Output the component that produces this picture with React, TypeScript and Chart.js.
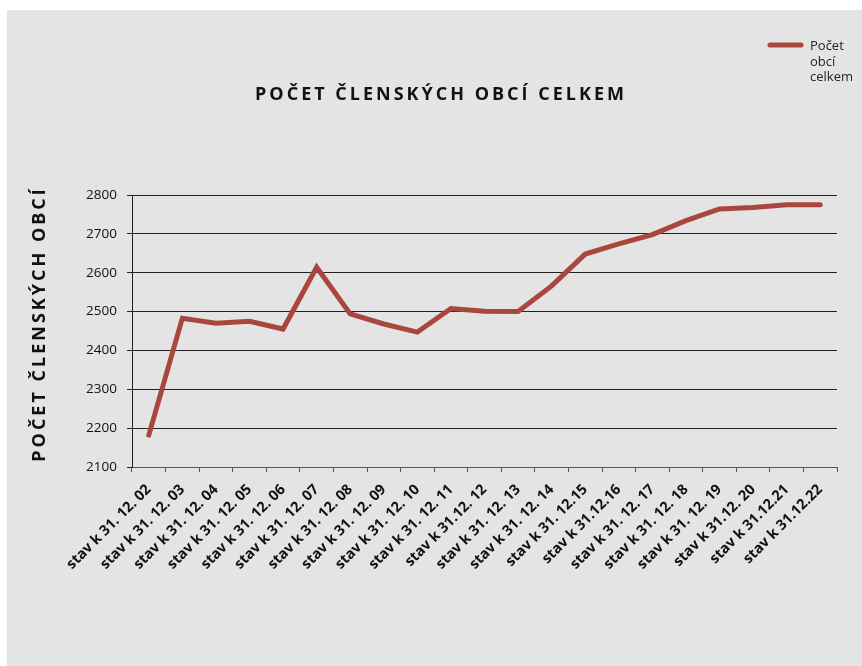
import React, { useEffect, useRef } from "react";
import { Chart, registerables } from "chart.js";

Chart.register(...registerables);

const categories = [
  "stav k 31. 12. 02",
  "stav k 31. 12. 03",
  "stav k 31. 12. 04",
  "stav k 31. 12. 05",
  "stav k 31. 12. 06",
  "stav k 31. 12. 07",
  "stav k 31. 12. 08",
  "stav k 31. 12. 09",
  "stav k 31. 12. 10",
  "stav k 31. 12. 11",
  "stav k 31.12. 12",
  "stav k 31. 12. 13",
  "stav k 31. 12. 14",
  "stav k 31. 12.15",
  "stav k 31.12.16",
  "stav k 31. 12. 17",
  "stav k 31. 12. 18",
  "stav k 31. 12. 19",
  "stav k 31.12. 20",
  "stav k 31.12.21",
  "stav k 31.12.22",
];

const obceCelkem = [
  2182, 2483, 2470, 2475, 2455, 2614, 2494, 2468, 2447, 2508, 2501, 2500,
  2566, 2648, 2674, 2698, 2734, 2764, 2768, 2775, 2775,
];

const seriesName = ["Počet", "obcí", "celkem"];
const chartTitle = "POČET ČLENSKÝCH OBCÍ CELKEM";
const yAxisTitle = "POČET ČLENSKÝCH OBCÍ";
const yMin = 2100;
const yMax = 2800;
const yStep = 100;

const LINE_COLOR = "#a9473f";
const BG = "#e3e4e3";
const FONT = "'Open Sans', 'Noto Sans', sans-serif";

const decorPlugin = {
  id: "decor",
  afterDraw(chart: any) {
    const ctx = chart.ctx as CanvasRenderingContext2D;
    // Title
    ctx.save();
    (ctx as any).letterSpacing = "3px";
    ctx.fillStyle = "#111";
    ctx.font = `bold 18px ${FONT}`;
    ctx.textAlign = "center";
    ctx.textBaseline = "middle";
    ctx.fillText(chartTitle, 434, 85);
    ctx.restore();

    // Y axis title
    ctx.save();
    (ctx as any).letterSpacing = "3px";
    ctx.fillStyle = "#111";
    ctx.font = `bold 18px ${FONT}`;
    ctx.translate(33, 314);
    ctx.rotate(-Math.PI / 2);
    ctx.textAlign = "center";
    ctx.textBaseline = "middle";
    ctx.fillText(yAxisTitle, 0, 0);
    ctx.restore();

    // Legend
    ctx.save();
    ctx.strokeStyle = LINE_COLOR;
    ctx.lineWidth = 5;
    ctx.lineCap = "round";
    ctx.beginPath();
    ctx.moveTo(763, 35);
    ctx.lineTo(794, 35);
    ctx.stroke();
    ctx.fillStyle = "#222";
    ctx.font = `13px ${FONT}`;
    ctx.textAlign = "left";
    ctx.textBaseline = "alphabetic";
    seriesName.forEach((t, i) => ctx.fillText(t, 803, 40 + i * 15.5));
    ctx.restore();
  },
};

export default function App() {
  const ref = useRef<HTMLCanvasElement>(null);

  useEffect(() => {
    if (!ref.current) return;
    const chart = new Chart(ref.current, {
      type: "line",
      data: {
        labels: categories,
        datasets: [
          {
            label: seriesName.join(" "),
            data: obceCelkem,
            borderColor: LINE_COLOR,
            backgroundColor: LINE_COLOR,
            borderWidth: 5,
            pointRadius: 0,
            pointHoverRadius: 0,
            tension: 0,
            borderCapStyle: "round",
            borderJoinStyle: "miter",
          },
        ],
      },
      options: {
        animation: false,
        responsive: false,
        maintainAspectRatio: false,
        layout: {
          padding: { left: 65, top: 185, right: 25, bottom: 59 },
        },
        plugins: {
          legend: { display: false },
          title: { display: false },
          tooltip: { enabled: false },
        },
        scales: {
          x: {
            type: "category",
            offset: true,
            afterFit: (s: any) => {
              s.height = 140;
            },
            grid: {
              display: true,
              drawOnChartArea: false,
              drawTicks: true,
              tickLength: 5,
              color: "#555",
              offset: true,
            },
            border: { display: true, color: "#555", width: 1 },
            ticks: {
              autoSkip: false,
              maxRotation: 45,
              minRotation: 45,
              padding: 9,
              color: "#111",
              font: { family: FONT, size: 14.5, weight: "bold" },
            },
          },
          y: {
            min: yMin,
            max: yMax,
            afterFit: (s: any) => {
              s.width = 60;
            },
            grid: {
              color: "#222",
              lineWidth: 1,
              drawTicks: true,
              tickLength: 5,
            },
            border: { display: true, color: "#222", width: 1 },
            ticks: {
              stepSize: yStep,
              padding: 10,
              color: "#111",
              font: { family: FONT, size: 13.5 },
              callback: (v: any) => String(v),
            },
          },
        },
      },
      plugins: [decorPlugin],
    });
    return () => chart.destroy();
  }, []);

  return (
    <div
      style={{
        position: "absolute",
        left: 7,
        top: 10,
        width: 855,
        height: 656,
        background: BG,
      }}
    >
      <canvas ref={ref} width={855} height={656} style={{ display: "block" }} />
    </div>
  );
}
